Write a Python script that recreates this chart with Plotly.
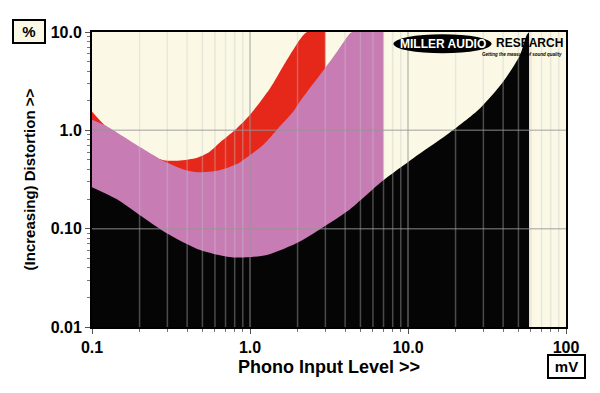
import plotly.graph_objects as go

# ---- data (mV vs % distortion) ----
red_x = [0.1, 0.12, 0.2, 0.28, 0.34, 0.45, 0.55, 0.65, 0.8, 1.0, 1.34, 1.79, 2.29, 3.0]
red_y = [1.55, 1.13, 0.62, 0.50, 0.49, 0.52, 0.60, 0.76, 1.0, 1.44, 2.68, 5.85, 10.0, 10.0]

pink_x = [0.1, 0.12, 0.147, 0.2, 0.276, 0.388, 0.47, 0.63, 0.84, 1.0, 1.21, 1.5, 1.88, 2.07, 2.98, 3.6, 4.3, 4.45, 7.0]
pink_y = [1.28, 1.13, 0.93, 0.68, 0.50, 0.395, 0.375, 0.39, 0.46, 0.56, 0.71, 1.04, 1.55, 1.96, 4.28, 6.5, 9.7, 10.0, 10.0]

black_x = [0.1, 0.143, 0.2, 0.297, 0.483, 0.784, 1.28, 2.07, 3.05, 4.3, 6.8, 10.8, 17.6, 28.6, 40.1, 51.2, 56.4, 58.4]
black_y = [0.264, 0.200, 0.138, 0.090, 0.0607, 0.051, 0.054, 0.074, 0.109, 0.158, 0.30, 0.52, 0.90, 1.68, 3.13, 5.85, 9.3, 10.0]

x_tickvals = [0.1, 1, 10, 100]
x_ticktext = ["0.1", "1.0", "10.0", "100"]
y_tickvals = [0.01, 0.1, 1, 10]
y_ticktext = ["0.01", "0.10", "1.0", "10.0"]

x_minor = [m * d for d in [0.1, 1, 10] for m in range(2, 10)]
y_minor = [m * d for d in [0.01, 0.1, 1] for m in range(2, 10)]

CREAM = "#FBF9E6"
RED = "#E5281A"
PINK = "#C77CB4"
BLACK = "#050505"

fig = go.Figure()
for xs, ys, col in [(red_x, red_y, RED), (pink_x, pink_y, PINK), (black_x, black_y, BLACK)]:
    fig.add_trace(go.Scatter(x=xs, y=ys, mode="lines", fill="tozeroy", fillcolor=col,
                             line=dict(width=0, color=col, shape="spline", smoothing=0.7),
                             hoverinfo="skip", showlegend=False))

shapes = []
# grid lines drawn above the fills
for v in x_minor:
    shapes.append(dict(type="line", xref="x", yref="paper", x0=v, x1=v, y0=0, y1=1,
                       line=dict(color="rgba(200,200,200,0.36)", width=1.5), layer="above"))
for v in x_tickvals[1:-1]:
    shapes.append(dict(type="line", xref="x", yref="paper", x0=v, x1=v, y0=0, y1=1,
                       line=dict(color="rgba(150,150,150,0.6)", width=1.5), layer="above"))
for v in y_tickvals[1:-1]:
    shapes.append(dict(type="line", xref="paper", yref="y", x0=0, x1=1, y0=v, y1=v,
                       line=dict(color="rgba(150,150,150,0.6)", width=1.5), layer="above"))
# logo ellipse
shapes.append(dict(type="circle", xref="paper", yref="paper", x0=0.636, x1=0.843, y0=0.928, y1=0.992,
                   fillcolor="black", line=dict(width=0), layer="above"))

FONT = "Liberation Sans, Arial, sans-serif"
annotations = [
    dict(text="MILLER AUDIO", xref="paper", yref="paper", x=0.740, y=0.960, showarrow=False,
         font=dict(family=FONT, size=12, color="white", weight="bold"), xanchor="center", yanchor="middle"),
    dict(text="RESEARCH", xref="paper", yref="paper", x=0.922, y=0.962, showarrow=False,
         font=dict(family=FONT, size=12, color="black", weight="bold"), xanchor="center", yanchor="middle"),
    dict(text="<i>Getting the measure of sound quality</i>", xref="paper", yref="paper", x=0.995, y=0.925,
         showarrow=False, font=dict(family=FONT, size=4.5, color="black", weight="bold"),
         xanchor="right", yanchor="middle"),
    dict(text="(Increasing) Distortion >>", xref="paper", yref="paper", x=-0.131, y=0.5, textangle=-90,
         showarrow=False, font=dict(family=FONT, size=15, color="black", weight="bold"),
         xanchor="center", yanchor="middle"),
    dict(text="Phono Input Level >>", xref="paper", yref="paper", x=0.500, y=-0.136,
         showarrow=False, font=dict(family=FONT, size=18, color="black", weight="bold"),
         xanchor="center", yanchor="middle"),
    dict(text="%", xref="paper", yref="paper", x=-0.133, y=1.0017, showarrow=False,
         font=dict(family=FONT, size=15, color="black", weight="bold"),
         bgcolor=CREAM, bordercolor="black", borderwidth=2, width=28, height=19,
         xanchor="center", yanchor="middle"),
    dict(text="mV", xref="paper", yref="paper", x=1.001, y=-0.134, showarrow=False,
         font=dict(family=FONT, size=15, color="black", weight="bold"),
         bgcolor="white", bordercolor="black", borderwidth=2, width=33, height=19,
         xanchor="center", yanchor="middle"),
]

# the page body has an 8px default margin, so the plot box is offset by that much
fig.update_layout(
    width=600, height=393,
    margin=dict(l=84, r=42, t=24, b=74),
    paper_bgcolor="white", plot_bgcolor=CREAM,
    shapes=shapes, annotations=annotations,
    xaxis=dict(type="log", range=[-1, 2], tickvals=x_tickvals, ticktext=x_ticktext,
               ticks="outside", ticklen=5, tickcolor="#555", tickwidth=1,
               minor=dict(tickvals=x_minor, ticks="outside", ticklen=3, tickcolor="#777", showgrid=False),
               showgrid=False, zeroline=False, showline=True, mirror=True, linecolor="black", linewidth=2,
               tickfont=dict(family=FONT, size=16, color="black", weight="bold"), layer="above traces"),
    yaxis=dict(type="log", range=[-2, 1], tickvals=y_tickvals, ticktext=y_ticktext,
               ticks="outside", ticklen=5, tickcolor="#555", tickwidth=1,
               minor=dict(tickvals=y_minor, ticks="outside", ticklen=3, tickcolor="#777", showgrid=False),
               showgrid=False, zeroline=False, showline=True, mirror=True, linecolor="black", linewidth=2,
               tickfont=dict(family=FONT, size=16, color="black", weight="bold"), layer="above traces"),
)

fig.write_html("out.html")
